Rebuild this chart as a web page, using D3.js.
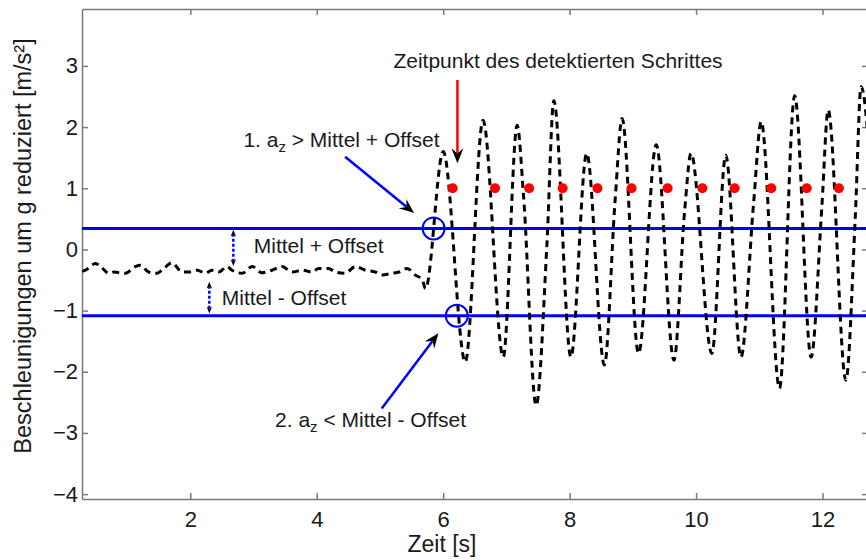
<!DOCTYPE html>
<html>
<head>
<meta charset="utf-8">
<script src="https://cdn.jsdelivr.net/npm/d3@7"></script>
<style>
  html, body { margin: 0; padding: 0; background: #fff; }
  svg { display: block; font-family: "Liberation Sans", Arial, sans-serif; }
</style>
</head>
<body>
<svg id="chart" width="866" height="560"></svg>
<script>
// tick values of both axes
const xTicks = [2, 4, 6, 8, 10, 12];
const yTicks = [-4, -3, -2, -1, 0, 1, 2, 3];

// acceleration signal (time in s, value in m/s²)
const timeS = [
  0.29, 0.34, 0.50, 0.58, 0.71, 0.79, 0.97, 1.13, 1.21, 1.34, 1.47, 1.55, 1.71, 1.87, 1.97,
  2.11, 2.24, 2.34, 2.45, 2.58, 2.66, 2.82, 2.98, 3.13, 3.29, 3.45, 3.61, 3.77, 3.93, 4.03,
  4.19, 4.29, 4.45, 4.61, 4.77, 4.93, 5.03, 5.19, 5.30, 5.43, 5.56, 5.67, 5.72,
  6.00, 6.35, 6.63, 6.95, 7.17, 7.27, 7.47, 7.64, 7.75, 8.02, 8.27, 8.55, 8.72, 8.83,
  9.09, 9.37, 9.65, 9.82, 9.92, 10.25, 10.47, 10.71, 10.91, 11.03, 11.32, 11.56, 11.82,
  11.99, 12.09, 12.37, 12.52, 12.61, 12.90
];
const accel = [
  -0.36, -0.34, -0.23, -0.28, -0.39, -0.37, -0.39, -0.28, -0.26, -0.37, -0.39, -0.34, -0.22, -0.37, -0.37,
  -0.34, -0.39, -0.34, -0.37, -0.28, -0.34, -0.39, -0.28, -0.38, -0.34, -0.28, -0.37, -0.34, -0.37, -0.31,
  -0.31, -0.37, -0.39, -0.28, -0.34, -0.37, -0.42, -0.39, -0.37, -0.31, -0.42, -0.50, -0.64,
  1.60, -1.84, 2.11, -1.76, 2.03, 0.89, -2.55, 0.07, 2.43, -1.76, 1.57, -1.89, 0.81, 2.14,
  -1.70, 1.71, -1.81, 0.64, 1.57, -1.70, 1.54, -1.76, 0.75, 2.09, -2.27, 2.51, -1.76,
  0.70, 2.28, -2.14, 0.56, 2.66, -1.90
];

// detected steps (red dots) and the two thresholds
const stepTimes = [6.15, 6.82, 7.36, 7.89, 8.44, 8.98, 9.55, 10.10, 10.61, 11.19, 11.75, 12.26];
const stepLevel = 1;
const upperThreshold = 0.343;  // Mittel + Offset
const lowerThreshold = -1.085; // Mittel - Offset

const svg = d3.select("#chart");
const plotLeft = 82, plotRight = 868, plotTop = 9, plotBottom = 499; //right edge of the box is cut off by the picture

const x = d3.scaleLinear().domain([0.286, 12.72]).range([plotLeft, plotRight]);
const y = d3.scaleLinear().domain([-4.08, 3.93]).range([plotBottom, plotTop]);

svg.append("clipPath").attr("id", "plot")
  .append("rect")
  .attr("x", plotLeft).attr("y", plotTop)
  .attr("width", plotRight - plotLeft).attr("height", plotBottom - plotTop);

//axes with inward ticks, box on all four sides
function styleAxis(g) {
  g.selectAll("path, line").attr("stroke", "#7a7a7a").attr("stroke-width", 1.5);
  g.selectAll("text").attr("font-size", 22).attr("fill", "#1a1a1a");
}

svg.append("g")
  .attr("transform", `translate(0,${plotBottom})`)
  .call(d3.axisBottom(x).tickValues(xTicks).tickSize(-6).tickSizeOuter(0).tickPadding(12))
  .call(styleAxis);

svg.append("g")
  .attr("transform", `translate(0,${plotTop})`)
  .call(d3.axisTop(x).tickValues(xTicks).tickSize(-6).tickSizeOuter(0).tickFormat(""))
  .call(styleAxis);

svg.append("g")
  .attr("transform", `translate(${plotLeft},0)`)
  .call(d3.axisLeft(y).tickValues(yTicks).tickSize(-6).tickSizeOuter(0).tickPadding(4))
  .call(styleAxis);

svg.append("g")
  .attr("transform", `translate(${plotRight},0)`)
  .call(d3.axisRight(y).tickValues(yTicks).tickSize(-6).tickSizeOuter(0).tickFormat(""))
  .call(styleAxis);

//axis titles
svg.append("text")
  .attr("x", 442).attr("y", 552)
  .attr("text-anchor", "middle")
  .attr("font-size", 23).attr("fill", "#1a1a1a")
  .text("Zeit [s]");

svg.append("text")
  .attr("transform", "translate(31,246) rotate(-90)")
  .attr("text-anchor", "middle")
  .attr("font-size", 23.5).attr("fill", "#1a1a1a")
  .text("Beschleunigungen um g reduziert [m/s²]");

const plot = svg.append("g").attr("clip-path", "url(#plot)");

//the two threshold lines
plot.selectAll("line.threshold")
  .data([upperThreshold, lowerThreshold])
  .join("line")
  .attr("class", "threshold")
  .attr("x1", plotLeft).attr("x2", plotRight)
  .attr("y1", d => y(d)).attr("y2", d => y(d))
  .attr("stroke", "#0000ff")
  .attr("stroke-width", 3);

//dashed acceleration signal
const signal = timeS.map((t, i) => [t, accel[i]]);
plot.append("path")
  .datum(signal)
  .attr("d", d3.line().x(d => x(d[0])).y(d => y(d[1])).curve(d3.curveMonotoneX))
  .attr("fill", "none")
  .attr("stroke", "#000")
  .attr("stroke-width", 3)
  .attr("stroke-dasharray", "7,5");

//red dots at the detected steps
plot.selectAll("circle.step")
  .data(stepTimes)
  .join("circle")
  .attr("class", "step")
  .attr("cx", d => x(d))
  .attr("cy", y(stepLevel))
  .attr("r", 5)
  .attr("fill", "#ff0000");

//blue circles where the signal crosses the thresholds
svg.selectAll("circle.cross")
  .data([[5.848, upperThreshold], [6.215, lowerThreshold]])
  .join("circle")
  .attr("class", "cross")
  .attr("cx", d => x(d[0]))
  .attr("cy", d => y(d[1]))
  .attr("r", 11)
  .attr("fill", "none")
  .attr("stroke", "#0000ff")
  .attr("stroke-width", 2);

//builds a matlab style arrow head (concave back) pointing at x2,y2
function headPoint(x1, y1, x2, y2, back, side) {
  const a = Math.atan2(y2 - y1, x2 - x1);
  return [x2 - back * Math.cos(a) - side * Math.sin(a), y2 - back * Math.sin(a) + side * Math.cos(a)];
}
function arrowHead(x1, y1, x2, y2, len, half) {
  const p1 = headPoint(x1, y1, x2, y2, len, half);
  const p2 = headPoint(x1, y1, x2, y2, len * 0.65, 0);
  const p3 = headPoint(x1, y1, x2, y2, len, -half);
  return `M${x2},${y2}L${p1}L${p2}L${p3}Z`;
}

//annotation arrows: line in colour, head in black
const arrows = [
  { from: [4.448, 1.514], to: [5.540, 0.594], color: "#0000ff" },
  { from: [5.028, -2.60], to: [5.924, -1.369], color: "#0000ff" },
  { from: [6.225, 2.77], to: [6.225, 1.41], color: "#ff0000" },
];
arrows.forEach(a => {
  const x1 = x(a.from[0]), y1 = y(a.from[1]), x2 = x(a.to[0]), y2 = y(a.to[1]);
  const end = headPoint(x1, y1, x2, y2, 10, 0);
  svg.append("line")
    .attr("x1", x1).attr("y1", y1).attr("x2", end[0]).attr("y2", end[1])
    .attr("stroke", a.color).attr("stroke-width", 2.5);
  svg.append("path")
    .attr("d", arrowHead(x1, y1, x2, y2, 15, 6))
    .attr("fill", "#000");
});

//small dotted double arrows showing the offset
const offsets = [
  { t: 2.68, v1: 0.32, v2: -0.27 },
  { t: 2.30, v1: -0.53, v2: -1.047 },
];
offsets.forEach(o => {
  const xx = x(o.t), ya = y(o.v1), yb = y(o.v2);
  svg.append("line")
    .attr("x1", xx).attr("x2", xx).attr("y1", ya + 4).attr("y2", yb - 4)
    .attr("stroke", "#0000ff").attr("stroke-width", 2.5)
    .attr("stroke-dasharray", "3,2");
  svg.append("path").attr("d", arrowHead(xx, yb, xx, ya, 7, 2.8)).attr("fill", "#000");
  svg.append("path").attr("d", arrowHead(xx, ya, xx, yb, 7, 2.8)).attr("fill", "#000");
});

//annotation texts
const notes = [
  { t: 5.212, v: 2.96, parts: [["Zeitpunkt des detektierten Schrittes"]] },
  { t: 2.839, v: 1.678, parts: [["1. a"], ["z", "sub"], [" > Mittel + Offset"]] },
  { t: 3.34, v: -2.90, parts: [["2. a"], ["z", "sub"], [" < Mittel - Offset"]] },
  { t: 3.003, v: -0.052, parts: [["Mittel + Offset"]] },
  { t: 2.497, v: -0.911, parts: [["Mittel - Offset"]] },
];
notes.forEach(n => {
  const txt = svg.append("text")
    .attr("x", x(n.t)).attr("y", y(n.v))
    .attr("font-size", 21).attr("fill", "#1a1a1a");
  n.parts.forEach(p => {
    const span = txt.append("tspan").text(p[0]);
    if (p[1] == "sub") {
      span.attr("font-size", 15).attr("dy", 5);
    } else if (txt.selectAll("tspan").size() > 1) {
      span.attr("dy", -5); //back to the baseline after the subscript
    }
  });
});
</script>
</body>
</html>
